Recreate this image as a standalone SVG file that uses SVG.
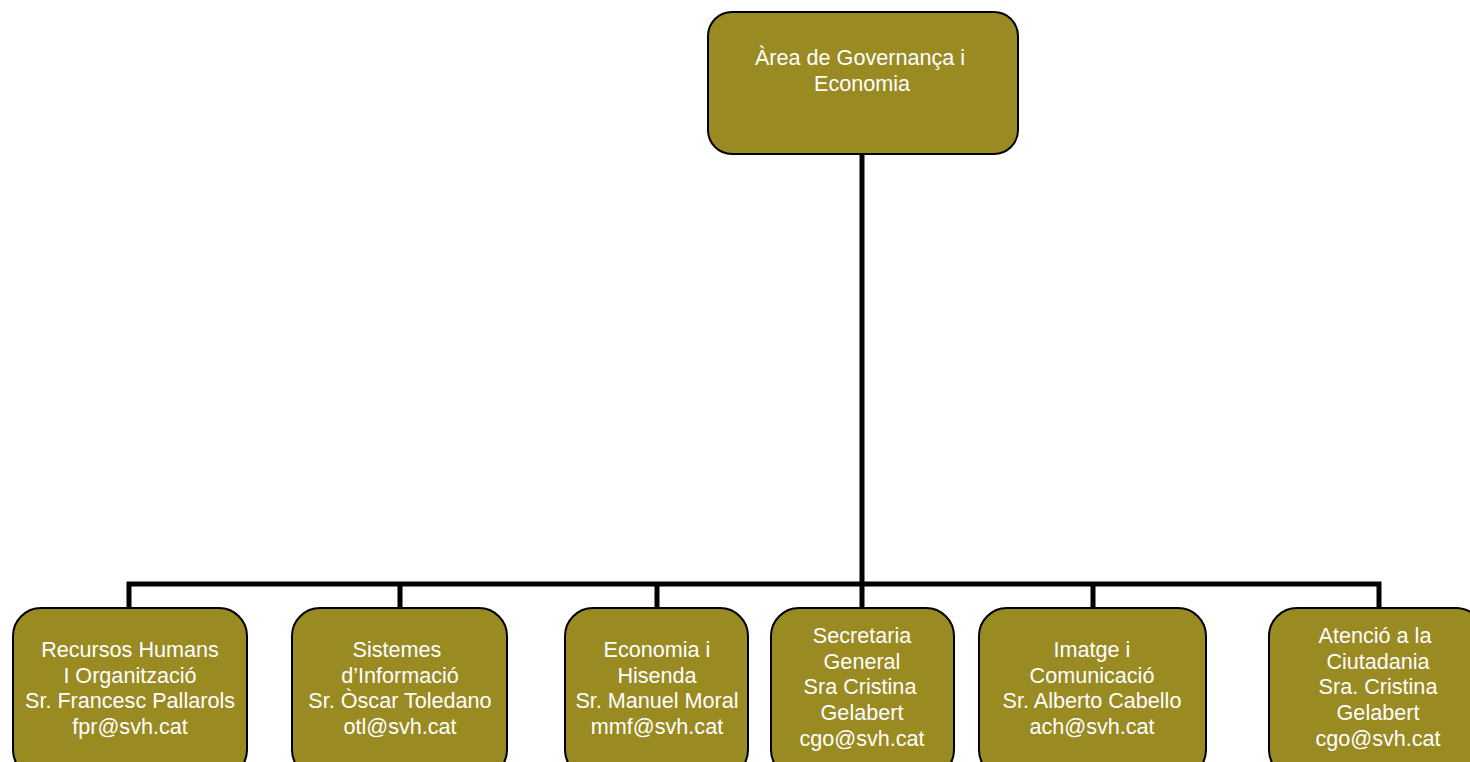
<svg xmlns="http://www.w3.org/2000/svg" width="1470" height="762" viewBox="0 0 1470 762">
<style>
.box{fill:#9a8a22;stroke:#000;stroke-width:2}
.t{font-family:"Liberation Sans",Arial,sans-serif;font-size:21.6px;fill:#fff;text-anchor:middle}
.c{stroke:#000;stroke-width:5;fill:none}
</style>
<rect width="1470" height="762" fill="#fff"/>
<g id="connectors">
<path class="c" d="M862 154V584M129 608V584H1379V608M400 584V608M657 584V608M862 584V608M1093 584V608"/>
</g>
<g id="n0"><rect class="box" x="708" y="12" width="310" height="142" rx="24"/>
<text class="t"><tspan x="860" y="65">Àrea de Governança i</tspan><tspan x="862" y="91">Economia</tspan></text></g>
<g id="n1"><rect class="box" x="13" y="608" width="234" height="170" rx="28"/>
<text class="t"><tspan x="130" y="657">Recursos Humans</tspan><tspan x="130" y="683">I Organització</tspan><tspan x="130" y="708">Sr. Francesc Pallarols</tspan><tspan x="130" y="734">fpr@svh.cat</tspan></text></g>
<g id="n2"><rect class="box" x="292" y="608" width="215" height="170" rx="28"/>
<text class="t"><tspan x="397" y="657">Sistemes</tspan><tspan x="400" y="683">d’Informació</tspan><tspan x="400" y="708">Sr. Òscar Toledano</tspan><tspan x="400" y="734">otl@svh.cat</tspan></text></g>
<g id="n3"><rect class="box" x="565" y="608" width="183" height="170" rx="28"/>
<text class="t"><tspan x="657" y="657">Economia i</tspan><tspan x="657" y="683">Hisenda</tspan><tspan x="657" y="708">Sr. Manuel Moral</tspan><tspan x="657" y="734">mmf@svh.cat</tspan></text></g>
<g id="n4"><rect class="box" x="771" y="608" width="183" height="170" rx="28"/>
<text class="t"><tspan x="862" y="643">Secretaria</tspan><tspan x="862" y="669">General</tspan><tspan x="860" y="694">Sra Cristina</tspan><tspan x="862" y="720">Gelabert</tspan><tspan x="862" y="746">cgo@svh.cat</tspan></text></g>
<g id="n5"><rect class="box" x="979" y="608" width="227" height="170" rx="28"/>
<text class="t"><tspan x="1092" y="657">Imatge i</tspan><tspan x="1092" y="683">Comunicació</tspan><tspan x="1092" y="708">Sr. Alberto Cabello</tspan><tspan x="1092" y="734">ach@svh.cat</tspan></text></g>
<g id="n6"><rect class="box" x="1269" y="608" width="215" height="170" rx="28"/>
<text class="t"><tspan x="1375" y="643">Atenció a la</tspan><tspan x="1378" y="669">Ciutadania</tspan><tspan x="1378" y="694">Sra. Cristina</tspan><tspan x="1378" y="720">Gelabert</tspan><tspan x="1378" y="746">cgo@svh.cat</tspan></text></g>
</svg>
